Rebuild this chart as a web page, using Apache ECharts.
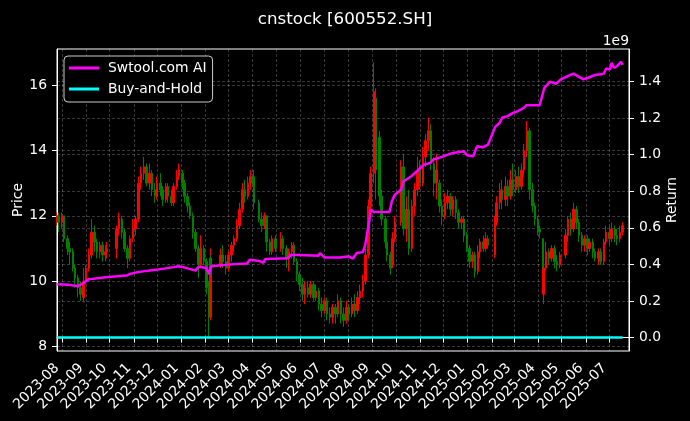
<!DOCTYPE html>
<html><head><meta charset="utf-8">
<script src="https://cdn.jsdelivr.net/npm/echarts@6/dist/echarts.min.js"></script>
<style>html,body{margin:0;padding:0;background:#000}#c{width:690px;height:421px}</style>
</head><body><div id="c"></div>
<script>
// [date, open, close, low, high]
const candles = [
['2023-07-26',11.9,12.0,11.7,12.1],['2023-07-28',12.0,11.8,11.5,12.1],
['2023-08-01',11.8,12.0,11.6,12.1],['2023-08-04',12.0,11.3,11.2,12.0],['2023-08-08',11.3,11.0,10.8,11.4],
['2023-08-11',11.0,10.9,10.5,11.2],['2023-08-15',10.9,10.4,10.3,11.0],['2023-08-18',10.4,10.1,9.8,10.5],
['2023-08-22',10.1,9.8,9.5,10.2],['2023-08-25',9.8,9.6,9.4,10.0],['2023-08-29',9.5,10.0,9.35,10.4],
['2023-09-01',10.0,10.4,9.9,10.5],['2023-09-05',10.4,10.8,10.3,11.0],['2023-09-08',10.8,11.5,10.7,11.9],
['2023-09-12',11.5,11.2,10.9,11.7],['2023-09-15',11.2,10.9,10.7,11.3],['2023-09-19',10.9,11.1,10.7,11.2],
['2023-09-22',11.1,10.8,10.6,11.2],['2023-09-26',10.8,10.9,10.6,11.1],['2023-09-28',10.9,11.0,10.7,11.2],
['2023-10-10',11.0,11.6,10.7,11.7],['2023-10-13',11.6,11.9,11.4,12.1],['2023-10-17',11.9,11.5,11.3,12.0],
['2023-10-20',11.5,11.0,10.9,11.6],['2023-10-24',11.0,10.7,10.4,11.1],['2023-10-27',10.7,11.3,10.6,11.4],
['2023-10-31',11.3,11.6,11.2,11.9],['2023-11-03',11.6,11.9,11.4,12.0],['2023-11-07',11.9,13.0,11.8,13.2],
['2023-11-10',13.0,13.3,12.8,13.5],['2023-11-14',13.3,13.5,13.1,13.8],['2023-11-17',13.5,13.0,12.9,13.6],
['2023-11-21',13.0,13.3,12.8,13.6],['2023-11-24',13.3,12.8,12.6,13.4],['2023-11-28',12.8,12.6,12.4,13.0],
['2023-12-01',12.6,13.0,12.5,13.2],['2023-12-05',13.0,12.8,12.6,13.3],['2023-12-08',12.8,12.5,12.3,12.9],
['2023-12-12',12.5,12.9,12.4,13.0],['2023-12-15',12.9,12.6,12.4,13.0],['2023-12-19',12.6,12.4,12.3,12.8],
['2023-12-22',12.4,12.9,12.3,13.0],['2023-12-26',12.9,13.2,12.8,13.4],['2023-12-29',13.2,13.4,13.1,13.6],
['2024-01-02',13.3,13.0,12.8,13.4],['2024-01-05',13.0,12.6,12.4,13.1],['2024-01-09',12.6,12.3,12.1,12.7],
['2024-01-12',12.3,12.0,11.9,12.4],['2024-01-16',12.0,11.5,11.3,12.1],['2024-01-19',11.5,11.0,10.9,11.6],
['2024-01-23',11.0,10.5,10.1,11.1],['2024-01-26',10.5,11.0,10.4,11.4],['2024-01-30',11.0,10.6,10.5,11.1],
['2024-02-02',10.6,9.8,9.6,10.7],['2024-02-05',9.8,8.9,8.3,10.0],['2024-02-07',8.9,10.7,8.8,11.0],
['2024-02-08',10.7,10.5,10.2,10.8],['2024-02-20',10.5,10.8,10.4,11.0],['2024-02-23',10.8,10.6,10.4,11.1],
['2024-02-27',10.6,10.4,10.2,10.8],['2024-03-01',10.4,10.8,10.3,10.9],['2024-03-05',10.8,11.1,10.6,11.2],
['2024-03-08',11.1,11.3,10.9,11.4],['2024-03-12',11.3,11.7,11.2,11.9],['2024-03-15',11.7,12.2,11.6,12.4],
['2024-03-19',12.2,12.8,12.1,13.0],['2024-03-22',12.8,12.6,12.4,13.1],['2024-03-26',12.6,13.0,12.5,13.2],
['2024-03-29',13.0,13.2,12.8,13.4],['2024-04-02',13.2,12.9,12.7,13.4],['2024-04-03',12.9,12.4,12.2,13.0],
['2024-04-09',12.4,11.9,11.8,12.5],['2024-04-12',11.9,11.7,11.5,12.1],['2024-04-16',11.7,12.0,11.6,12.1],
['2024-04-19',12.0,11.2,10.9,12.0],['2024-04-23',11.2,10.9,10.8,11.3],['2024-04-26',10.9,11.3,10.8,11.4],
['2024-04-30',11.3,11.0,10.9,11.4],['2024-05-07',11.0,11.3,10.9,11.5],['2024-05-10',11.3,11.0,10.8,11.4],
['2024-05-14',11.0,10.7,10.4,11.1],['2024-05-17',10.7,10.9,10.3,11.0],['2024-05-21',10.9,11.1,10.7,11.2],
['2024-05-24',11.1,10.6,10.5,11.2],['2024-05-28',10.6,10.2,10.0,10.7],['2024-05-31',10.2,9.9,9.7,10.3],
['2024-06-04',9.9,9.6,9.4,10.1],['2024-06-07',9.6,9.8,9.3,10.0],['2024-06-11',9.8,9.6,9.5,10.0],
['2024-06-14',9.6,9.9,9.5,10.0],['2024-06-18',9.9,9.5,9.4,10.0],['2024-06-21',9.5,9.7,9.4,9.9],
['2024-06-25',9.7,9.3,9.1,9.8],['2024-06-28',9.3,9.1,8.9,9.5],['2024-07-02',9.1,9.4,9.0,9.5],
['2024-07-05',9.4,9.0,8.8,9.5],['2024-07-09',9.0,8.9,8.7,9.2],['2024-07-12',8.9,9.2,8.7,9.3],
['2024-07-16',9.2,9.0,8.7,9.3],['2024-07-19',9.0,9.4,8.9,9.6],['2024-07-23',9.4,9.0,8.7,9.5],
['2024-07-26',9.0,8.8,8.6,9.2],['2024-07-30',8.8,9.2,8.7,9.4],['2024-08-02',9.2,9.0,8.8,9.3],
['2024-08-06',9.0,9.3,8.9,9.5],['2024-08-09',9.3,9.1,8.9,9.6],['2024-08-13',9.1,9.5,9.0,9.7],
['2024-08-16',9.5,9.7,9.3,9.9],['2024-08-20',9.7,10.0,9.5,10.2],['2024-08-23',10.0,10.8,9.9,11.0],
['2024-08-27',10.8,12.3,10.7,12.5],['2024-08-30',12.3,13.3,12.2,13.5],['2024-09-03',13.3,15.8,13.0,16.7],
['2024-09-06',15.6,13.4,12.5,15.9],['2024-09-10',14.4,12.6,12.3,14.6],['2024-09-13',12.6,11.9,11.7,12.8],
['2024-09-18',11.9,11.2,11.0,12.0],['2024-09-20',11.2,10.8,10.6,11.4],['2024-09-24',10.8,10.4,10.2,10.9],
['2024-09-27',10.5,11.3,10.4,11.5],['2024-09-30',11.3,11.8,11.2,12.0],['2024-10-08',11.8,13.5,11.7,13.7],
['2024-10-11',13.5,11.6,11.4,13.9],['2024-10-15',11.6,12.2,11.2,12.6],['2024-10-18',12.2,11.0,10.8,12.8],
['2024-10-22',11.0,12.3,10.9,12.5],['2024-10-25',12.3,12.8,12.0,13.0],['2024-10-29',12.8,13.4,12.6,13.8],
['2024-11-01',13.4,13.0,12.8,13.7],['2024-11-05',13.0,13.8,12.9,14.1],['2024-11-08',13.8,14.3,13.5,14.5],
['2024-11-12',14.3,14.6,14.0,15.0],['2024-11-15',14.6,13.6,13.4,14.8],['2024-11-19',13.6,13.0,12.6,13.8],
['2024-11-22',13.0,13.4,12.5,13.9],['2024-11-26',13.0,12.3,12.1,13.1],['2024-11-29',12.3,12.0,11.7,12.5],
['2024-12-03',12.0,12.4,11.9,12.7],['2024-12-06',12.4,12.6,12.2,12.8],['2024-12-10',12.6,12.2,12.0,12.7],
['2024-12-13',12.2,12.5,12.0,12.6],['2024-12-17',12.5,12.1,11.9,12.6],['2024-12-20',12.1,11.8,11.6,12.2],
['2024-12-24',11.8,11.9,11.6,12.0],['2024-12-27',11.9,11.4,11.2,12.0],['2024-12-31',11.4,11.0,10.9,11.5],
['2025-01-03',11.0,10.6,10.4,11.1],['2025-01-07',10.6,10.8,10.4,10.9],['2025-01-10',10.8,10.3,10.1,10.9],
['2025-01-14',10.3,10.9,10.2,11.1],['2025-01-17',10.9,11.2,10.7,11.3],['2025-01-21',11.2,11.0,10.9,11.4],
['2025-01-24',11.0,11.3,10.9,11.5],['2025-01-27',11.3,11.1,11.0,11.4],['2025-02-05',10.8,11.8,10.7,12.0],
['2025-02-07',11.8,12.4,11.7,12.6],['2025-02-11',12.4,12.8,12.2,13.0],['2025-02-14',12.8,12.5,12.2,13.1],
['2025-02-18',12.5,12.9,12.3,13.2],['2025-02-21',12.9,12.6,12.3,13.1],['2025-02-25',12.6,13.1,12.5,13.4],
['2025-02-28',13.1,12.8,12.6,13.6],['2025-03-04',12.8,13.2,12.7,13.4],['2025-03-07',13.2,12.9,12.7,13.5],
['2025-03-11',12.9,13.4,12.8,13.6],['2025-03-14',13.4,14.0,13.2,14.2],['2025-03-18',14.0,14.6,13.8,14.9],
['2025-03-21',14.6,12.8,12.5,14.7],['2025-03-25',12.8,12.3,12.1,13.0],['2025-03-28',12.3,11.9,11.7,12.4],
['2025-04-01',11.9,11.6,11.4,12.0],['2025-04-03',11.6,11.5,11.3,11.7],['2025-04-07',11.3,10.0,9.8,11.3],
['2025-04-08',9.6,10.4,9.3,10.5],['2025-04-11',10.4,10.9,10.3,11.2],['2025-04-15',10.9,10.7,10.5,11.0],
['2025-04-18',10.7,11.0,10.6,11.1],['2025-04-22',11.0,10.6,10.4,11.1],['2025-04-25',10.6,10.5,10.3,10.8],
['2025-04-29',10.5,10.8,10.4,10.9],['2025-05-06',10.8,11.4,10.7,11.6],['2025-05-09',11.4,11.9,11.2,12.0],
['2025-05-13',11.9,11.6,11.4,12.1],['2025-05-16',11.6,12.2,11.5,12.4],['2025-05-20',12.2,11.8,11.6,12.3],
['2025-05-23',11.8,11.4,11.2,11.9],['2025-05-27',11.4,11.1,10.9,11.5],['2025-05-30',11.1,11.3,10.9,11.4],
['2025-06-03',11.3,11.0,10.8,11.4],['2025-06-06',11.0,11.2,10.9,11.3],['2025-06-10',11.2,10.9,10.7,11.3],
['2025-06-13',10.9,10.7,10.6,11.0],['2025-06-17',10.7,10.9,10.5,11.0],['2025-06-20',10.9,10.6,10.5,11.0],
['2025-06-24',10.6,11.2,10.5,11.3],['2025-06-27',11.2,11.5,11.1,11.7],['2025-07-01',11.5,11.3,11.1,11.7],
['2025-07-04',11.3,11.6,11.2,11.8],['2025-07-08',11.6,11.4,11.2,11.7],['2025-07-11',11.4,11.3,11.1,11.6],
['2025-07-15',11.3,11.5,11.2,11.7],['2025-07-18',11.5,11.7,11.4,11.8]
];

// Swtool.com AI return (units of 1e9)
const aiDates = ['2023-07-26','2023-08-10','2023-08-22','2023-08-28','2023-09-04','2023-09-26','2023-10-23','2023-10-27',
 '2023-11-08','2023-11-29','2023-12-22','2023-12-28','2024-01-03','2024-01-19','2024-01-23','2024-02-02','2024-02-05',
 '2024-02-08','2024-03-04','2024-03-25','2024-03-28','2024-04-10','2024-04-15','2024-04-17','2024-05-16','2024-05-20',
 '2024-06-24','2024-06-26','2024-07-02','2024-07-22','2024-08-02','2024-08-07','2024-08-12','2024-08-20','2024-08-23',
 '2024-08-28','2024-08-30','2024-09-03','2024-09-23','2024-09-26','2024-09-30','2024-10-08','2024-10-11','2024-10-21',
 '2024-10-28','2024-11-06','2024-11-14','2024-11-18','2024-11-27','2024-12-13','2024-12-27','2024-12-31','2025-01-08',
 '2025-01-13','2025-01-20','2025-01-27','2025-02-05','2025-02-11','2025-02-14','2025-02-21','2025-02-28','2025-03-06',
 '2025-03-14','2025-03-17','2025-04-03','2025-04-09','2025-04-16','2025-04-24','2025-04-30','2025-05-16','2025-05-29',
 '2025-06-04','2025-06-13','2025-06-24','2025-06-27','2025-07-02','2025-07-04','2025-07-07','2025-07-11','2025-07-16','2025-07-18'];
const aiValues = [0.292,0.288,0.281,0.297,0.318,0.330,0.339,0.348,
 0.359,0.370,0.385,0.390,0.385,0.366,0.387,0.380,0.345,
 0.390,0.400,0.405,0.425,0.418,0.408,0.430,0.434,0.452,
 0.447,0.461,0.437,0.438,0.444,0.431,0.462,0.467,0.507,
 0.635,0.699,0.686,0.686,0.745,0.781,0.809,0.854,0.882,
 0.909,0.945,0.954,0.973,0.985,1.009,1.018,0.996,0.991,
 1.046,1.040,1.055,1.150,1.174,1.201,1.210,1.228,1.237,
 1.256,1.270,1.270,1.365,1.398,1.387,1.411,1.442,1.411,
 1.420,1.435,1.442,1.471,1.465,1.502,1.474,1.483,1.507,1.490];

const bhDates = ['2023-07-26','2025-07-18'];
const bhValues = [0.0, 0.0];

const priceTicks = [8,10,12,14,16];
const returnTicks = [0,0.2,0.4,0.6,0.8,1.0,1.2,1.4];
const monthTicks = ['2023-08-01','2023-09-01','2023-10-01','2023-11-01','2023-12-01','2024-01-01','2024-02-01',
 '2024-03-01','2024-04-01','2024-05-01','2024-06-01','2024-07-01','2024-08-01','2024-09-01','2024-10-01',
 '2024-11-01','2024-12-01','2025-01-01','2025-02-01','2025-03-01','2025-04-01','2025-05-01','2025-06-01','2025-07-01'];

const ts = s => new Date(s.replace(' ', 'T')).getTime();
const FONT = 'DejaVu Sans';
const gridLine = {show:true, lineStyle:{color:'rgba(255,255,255,0.28)', type:[3,2], width:0.8}};
const chart = echarts.init(document.getElementById('c'), null, {renderer:'canvas'});
chart.setOption({
  backgroundColor:'#000',
  animation:false,
  textStyle:{fontFamily:FONT},
  title:[
    {text:'cnstock [600552.SH]', left:'center', top:11, padding:0,
     textStyle:{color:'#fff', fontSize:16.7, fontWeight:'normal', fontFamily:FONT}},
    {text:'1e9', right:61, top:34, padding:0,
     textStyle:{color:'#fff', fontSize:13.9, fontWeight:'normal', fontFamily:FONT}}
  ],
  legend:{
    data:[{name:'Swtool.com AI', icon:'rect'},{name:'Buy-and-Hold', icon:'rect'}],
    orient:'vertical', left:64, top:56, itemWidth:30, itemHeight:3, itemGap:7,
    padding:[5,6,6,5], borderColor:'#cccccc', borderWidth:1, borderRadius:4, backgroundColor:'#000',
    textStyle:{color:'#fff', fontSize:13.9, fontFamily:FONT, padding:[0,0,0,4]}
  },
  grid:{left:57, right:61, top:49, bottom:70, show:true, borderColor:'#fff', borderWidth:1,
        backgroundColor:'transparent', outerBoundsMode:'none', containLabel:false},
  xAxis:{
    type:'value', min:ts('2023-07-25T20:00:00'), max:ts('2025-07-26T05:00:00'),
    axisLine:{show:true, lineStyle:{color:'#fff', width:1}},
    axisTick:{show:true, customValues:monthTicks.map(ts), length:5, lineStyle:{color:'#fff'}},
    axisLabel:{customValues:monthTicks.map(ts), rotate:45, margin:10, color:'#fff', fontSize:13.9, fontFamily:FONT,
      padding:[0,7,0,0],
      formatter:function(v){const d=new Date(v);return d.getFullYear()+'-'+String(d.getMonth()+1).padStart(2,'0');}},
    splitLine:gridLine
  },
  yAxis:[
    {type:'value', position:'left', min:7.865, max:17.103,
     name:'Price', nameLocation:'middle', nameGap:32, nameRotate:90, nameMoveOverlap:false,
     nameTextStyle:{color:'#fff', fontSize:13.9, fontFamily:FONT},
     axisLine:{show:true, lineStyle:{color:'#fff'}},
     axisTick:{show:true, customValues:priceTicks, length:5, lineStyle:{color:'#fff'}},
     axisLabel:{customValues:priceTicks, margin:10, color:'#fff', fontSize:13.9, fontFamily:FONT},
     splitLine:gridLine},
    {type:'value', position:'right', min:-0.0734, max:1.577,
     name:'Return', nameLocation:'middle', nameGap:36, nameRotate:90, nameMoveOverlap:false,
     nameTextStyle:{color:'#fff', fontSize:13.9, fontFamily:FONT},
     axisLine:{show:true, lineStyle:{color:'#fff'}},
     axisTick:{show:true, customValues:returnTicks, length:5, lineStyle:{color:'#fff'}},
     axisLabel:{customValues:returnTicks, margin:10, color:'#fff', fontSize:13.9, fontFamily:FONT,
       formatter:function(v){return v.toFixed(1);}},
     splitLine:gridLine}
  ],
  series:[
    {name:'Price', type:'candlestick', xAxisIndex:0, yAxisIndex:0, barWidth:2,
     dimensions:['date','open','close','low','high'], encode:{x:0, y:[1,2,3,4]},
     data:candles.map(r => [ts(r[0]), r[1], r[2], r[3], r[4]]),
     itemStyle:{color:'#ff0000', color0:'#008000', borderColor:'#ff0000', borderColor0:'#008000', borderWidth:1},
     z:2},
    {name:'Swtool.com AI', type:'line', yAxisIndex:1, showSymbol:false, symbol:'none',
     data:aiDates.map((d,i)=>[ts(d), aiValues[i]]),
     lineStyle:{color:'#ff00ff', width:2.5}, itemStyle:{color:'#ff00ff'}, z:4},
    {name:'Buy-and-Hold', type:'line', yAxisIndex:1, showSymbol:false, symbol:'none',
     data:bhDates.map((d,i)=>[ts(d), bhValues[i]]),
     lineStyle:{color:'#00ffff', width:2.5}, itemStyle:{color:'#00ffff'}, z:4}
  ]
});
</script>
</body></html>
